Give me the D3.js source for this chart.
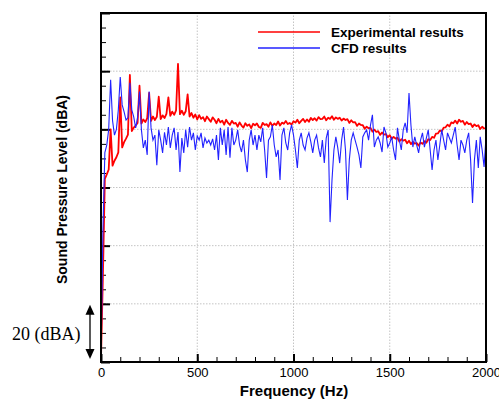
<!DOCTYPE html>
<html>
<head>
<meta charset="utf-8">
<script src="https://cdn.jsdelivr.net/npm/d3@7"></script>
<style>
  body { margin: 0; background: #fff; }
</style>
</head>
<body>
<div id="chart"></div>
<script>
// spectra sampled every 10 Hz from 0 to 2000 Hz (values in dBA, relative scale)
const freqStep = 10;

const experimental = [
  1, 30, 63, 64.5, 66.2, 80, 67.5, 69.2, 70.4, 72.1,
  91, 73.8, 75.6, 76.8, 78.2, 98.7, 79.4, 80.6, 81.3, 82.2,
  95, 82.0, 83.4, 82.5, 83.8, 92.5, 82.9, 84.4, 83.2, 84.3,
  91.2, 83.5, 84.8, 83.9, 85.3, 91, 84.6, 86.1, 85.0, 86.5,
  102.5, 85.2, 86.4, 85.0, 86.2, 92, 84.4, 85.6, 84.0, 85.1,
  83.4, 84.9, 83.6, 84.2, 82.8, 84.4, 83.5, 82.6, 84.1, 83.3,
  82.1, 83.6, 82.4, 83.0, 81.6, 83.3, 82.2, 81.5, 82.9, 82.0,
  82.2, 80.9, 82.4, 81.3, 80.6, 82.1, 81.2, 81.7, 80.4, 81.9,
  81.4, 82.0, 80.8, 80.5, 82.2, 81.5, 81.8, 80.9, 82.4, 81.2,
  82.0, 81.5, 82.7, 81.3, 82.3, 81.9, 82.9, 81.8, 82.2, 81.6,
  82.8, 82.3, 83.3, 82.1, 82.9, 83.6, 82.5, 83.4, 82.6, 83.9,
  83.2, 83.8, 83.0, 84.2, 83.5, 83.6, 84.4, 83.1, 84.0, 83.6,
  84.5, 83.3, 84.1, 83.6, 84.0, 83.0, 83.7, 83.2, 83.5, 82.2,
  83.1, 82.4, 82.5, 81.2, 82.0, 81.5, 81.4, 80.2, 80.9, 80.4,
  80.5, 79.2, 79.9, 79.1, 79.4, 78.1, 78.9, 78.2, 78.4, 77.3,
  78.0, 76.7, 77.4, 76.8, 77.1, 75.8, 76.6, 76.1, 76.4, 75.2,
  76.1, 74.9, 75.7, 75.1, 75.3, 74.4, 75.5, 75.0, 75.9, 75.4,
  76.6, 76.3, 77.4, 77.1, 78.5, 78.6, 79.6, 79.3, 80.6, 80.7,
  81.6, 81.0, 82.4, 82.1, 83.0, 82.0, 83.3, 82.6, 82.9, 81.6,
  82.5, 81.8, 82.0, 80.8, 81.7, 81.1, 81.4, 80.1, 80.9, 80.3,
  80.3
];

const cfd = [
  0, 45, 72, 74.6, 80, 97, 83, 78, 80, 86.7,
  98, 88.4, 86, 83.2, 84, 96, 86.7, 84.3, 80.5, 84,
  93, 79.8, 73.6, 76.3, 71.2, 93, 80.5, 76.3, 78, 67.7,
  79.8, 76.3, 71.9, 79, 74.6, 80.8, 73.6, 78, 80.5, 72.9,
  79.1, 65.3, 77, 71.9, 79.8, 73.9, 80.8, 76.3, 78.8, 72.9,
  77.7, 76.3, 78.8, 73.6, 77, 75.3, 76.3, 74.6, 76.7, 72.9,
  78, 69.5, 80.5, 74.6, 79.8, 71.2, 80.8, 70.2, 80.5, 74.6,
  76.3, 79.8, 74.6, 72.2, 76.3, 69.5, 65.3, 76.3, 79.8, 74.6,
  78, 72.9, 78, 75.7, 80.5, 72.9, 63.3, 76.3, 77.4, 81.5,
  74.6, 70.5, 72.9, 62.6, 78, 80.5, 75.3, 72.9, 78.8, 81.5,
  78, 72.9, 66.7, 76.3, 78.8, 74.6, 72.9, 77, 78.8, 75.7,
  71.9, 76.3, 78, 73.6, 70.5, 76.3, 68.4, 77, 79.8, 48.1,
  62.6, 72.9, 77.4, 73.6, 68.4, 76.3, 80.8, 72.9, 55.7, 69.5,
  76.3, 78.8, 76.3, 73.9, 71.2, 66.7, 77.4, 78.8, 79.8, 76.3,
  81.5, 85, 73.9, 76.3, 77.4, 75.3, 72.2, 80.8, 78.8, 73.9,
  75.3, 77.4, 72.9, 69.5, 80.5, 76.3, 72.9, 79.8, 82.2, 78.8,
  92.5, 81.5, 73.9, 77.4, 74.6, 71.9, 76.3, 78.8, 73.9, 77,
  79.8, 72.9, 66, 72.9, 76.3, 69.5, 74.6, 79.8, 76.3, 72.9,
  78.8, 77, 75.3, 78, 80.8, 74.6, 69.5, 76.3, 74.6, 71.9,
  76.3, 78.8, 69.5, 54.7, 69.5, 76.3, 66.7, 77.4, 72.9, 67.1,
  77.4
];

const seriesNames = ['Experimental results', 'CFD results'];
const seriesColors = ['#ff0000', '#2222ff'];
const xTicks = [0, 500, 1000, 1500, 2000];
const yMajor = [0, 20, 40, 60, 80, 100, 120];

const w = 499;
const h = 401;
const margin = { top: 13, right: 13, bottom: 39, left: 101 };
const sans = 'Arial, "Liberation Sans", sans-serif';

const x = d3.scaleLinear().domain([0, 2000]).range([margin.left, w - margin.right]);
const y = d3.scaleLinear().domain([0, 120]).range([h - margin.bottom, margin.top]);

const svg = d3.select('#chart').append('svg')
  .attr('width', w)
  .attr('height', h)
  .style('background', '#fff');

// dotted grid
svg.append('g')
  .selectAll('line')
  .data(yMajor.slice(1, -1))
  .join('line')
  .attr('x1', x(0)).attr('x2', x(2000))
  .attr('y1', d => y(d)).attr('y2', d => y(d))
  .attr('stroke', '#c4c4c4').attr('stroke-dasharray', '1.5,1.5');

svg.append('g')
  .selectAll('line')
  .data(xTicks.slice(1, -1))
  .join('line')
  .attr('x1', d => x(d)).attr('x2', d => x(d))
  .attr('y1', y(0)).attr('y2', y(120))
  .attr('stroke', '#c4c4c4').attr('stroke-dasharray', '1.5,1.5');

// bottom axis, ticks pointing inward
const xAxis = d3.axisBottom(x).tickValues(xTicks).tickSizeInner(-8).tickSizeOuter(0)
  .tickPadding(6).tickFormat(d3.format('d'));
const gx = svg.append('g')
  .attr('transform', 'translate(0,' + y(0) + ')')
  .call(xAxis);
gx.select('.domain').remove();
gx.selectAll('line').attr('stroke-width', 2);
gx.selectAll('text').attr('font-size', 13).attr('font-family', sans).attr('fill', '#000');

const xMinor = d3.axisBottom(x).tickValues(d3.range(0, 2001, 100)).tickSize(-5).tickFormat('');
const gxm = svg.append('g').attr('transform', 'translate(0,' + y(0) + ')').call(xMinor);
gxm.select('.domain').remove();

// left axis, no labels
const yAxis = d3.axisLeft(y).tickValues(yMajor).tickSize(-9).tickFormat('');
const gy = svg.append('g').attr('transform', 'translate(' + x(0) + ',0)').call(yAxis);
gy.select('.domain').remove();
gy.selectAll('line').attr('stroke-width', 2);

const yMinor = d3.axisLeft(y).tickValues(d3.range(0, 121, 5)).tickSize(-5).tickFormat('');
const gym = svg.append('g').attr('transform', 'translate(' + x(0) + ',0)').call(yMinor);
gym.select('.domain').remove();

// lines
const line = d3.line()
  .x((d, i) => x(i * freqStep))
  .y(d => y(d));

svg.append('path')
  .datum(experimental)
  .attr('d', line)
  .attr('fill', 'none')
  .attr('stroke', seriesColors[0])
  .attr('stroke-width', 1.8)
  .attr('stroke-linejoin', 'round');

svg.append('path')
  .datum(cfd)
  .attr('d', line)
  .attr('fill', 'none')
  .attr('stroke', seriesColors[1])
  .attr('stroke-width', 1.1);

// frame
svg.append('rect')
  .attr('x', x(0)).attr('y', y(120))
  .attr('width', x(2000) - x(0)).attr('height', y(0) - y(120))
  .attr('fill', 'none').attr('stroke', '#000').attr('stroke-width', 2);

// legend
const legend = svg.append('g');
seriesNames.forEach((name, i) => {
  const ly = 32 + i * 16;
  legend.append('line')
    .attr('x1', 258).attr('x2', 320)
    .attr('y1', ly).attr('y2', ly)
    .attr('stroke', seriesColors[i]).attr('stroke-width', 1.4);
  legend.append('text')
    .attr('x', 331).attr('y', ly + 5)
    .attr('font-family', sans)
    .attr('font-size', 13.5).attr('font-weight', 'bold')
    .text(name);
});

// axis titles
svg.append('text')
  .attr('x', 294).attr('y', 396)
  .attr('text-anchor', 'middle')
  .attr('font-family', sans)
  .attr('font-size', 15).attr('font-weight', 'bold')
  .text('Frequency (Hz)');

svg.append('text')
  .attr('transform', 'translate(67,' + ((y(0) + y(120)) / 2 + 2) + ') rotate(-90)')
  .attr('text-anchor', 'middle')
  .attr('font-family', sans)
  .attr('font-size', 14).attr('font-weight', 'bold')
  .text('Sound Pressure Level (dBA)');

// 20 dBA scale arrow
const ax = 90;
svg.append('line')
  .attr('x1', ax).attr('x2', ax)
  .attr('y1', y(20) + 8).attr('y2', y(0) - 10)
  .attr('stroke', '#000').attr('stroke-width', 1.3);
svg.append('path')
  .attr('d', 'M' + ax + ',' + (y(20) + 1) + 'l-4.5,10h9z')
  .attr('fill', '#000');
svg.append('path')
  .attr('d', 'M' + ax + ',' + (y(0) - 3) + 'l-4.5,-10h9z')
  .attr('fill', '#000');
svg.append('text')
  .attr('x', 12).attr('y', 340)
  .attr('font-family', '"Liberation Serif", "Times New Roman", serif')
  .attr('font-size', 18)
  .text('20 (dBA)');
</script>
</body>
</html>
